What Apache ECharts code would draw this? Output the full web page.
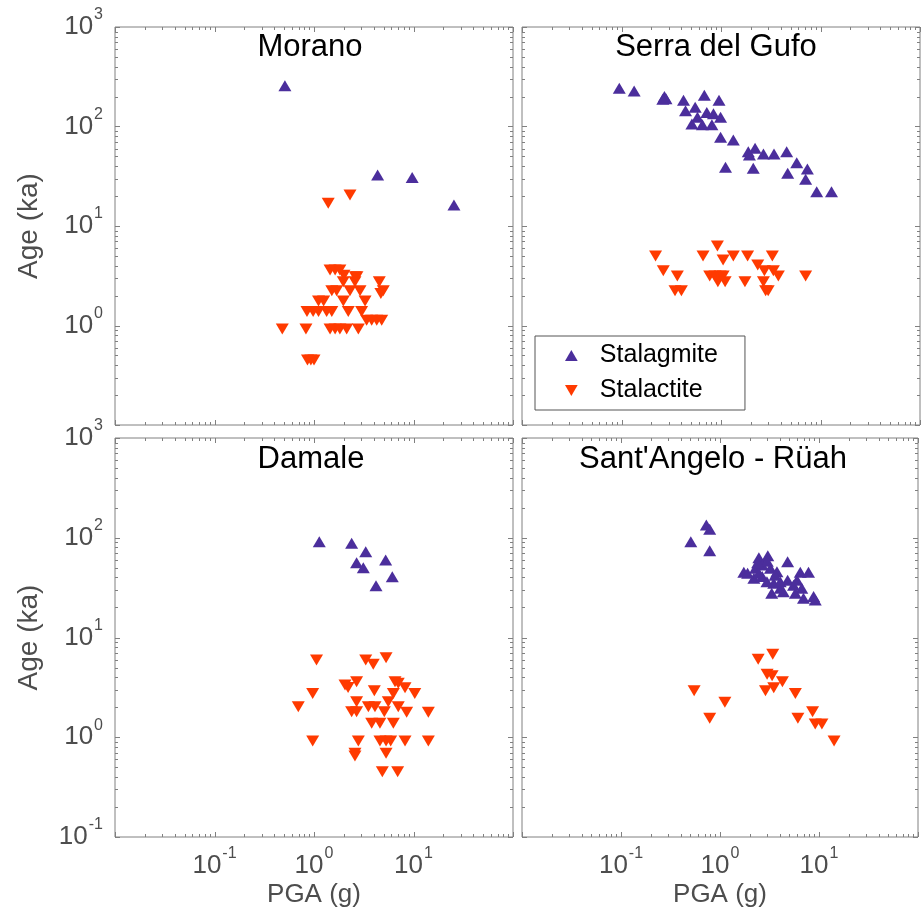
<!DOCTYPE html>
<html>
<head>
<meta charset="utf-8">
<script src="https://cdn.jsdelivr.net/npm/echarts@6/dist/echarts.min.js"></script>
<style>
html,body{margin:0;padding:0;background:#fff;}
#chart{width:921px;height:919px;}
</style>
</head>
<body>
<div id="chart"></div>
<script>
// ---------- data ----------
const panelTitles = ['Morano', 'Serra del Gufo', 'Damale', "Sant'Angelo - R\u00fcah"];
const seriesNames = ['Stalagmite', 'Stalactite'];

const moranoStalagmite = [[0.51,257],[4.36,32.6],[9.7,30.8],[25.5,16.3]];
const moranoStalactite = [
  [1.39,16.9],[2.30,20.5],
  [0.48,0.92],[0.83,0.92],
  [0.86,0.45],[0.93,0.45],[1.0,0.45],
  [1.45,0.92],[1.63,0.92],[1.82,0.92],[2.13,0.92],[2.79,0.92],
  [3.38,1.13],[3.80,1.13],[4.27,1.13],[4.79,1.13],
  [0.85,1.38],[0.98,1.38],[1.11,1.38],[1.34,1.38],[1.51,1.38],[2.21,1.38],[3.01,1.38],
  [1.11,1.76],[1.25,1.76],[1.97,1.76],[3.26,1.76],
  [1.51,2.24],[1.69,2.24],[2.30,2.24],[2.90,2.24],[4.97,2.24],[4.7,2.1],
  [1.97,2.75],[2.58,2.75],[4.53,2.75],
  [2.6,3.09],[2.7,3.09],
  [1.45,3.61],[1.63,3.61],[1.82,3.61],[2.0,3.2]
];

const serraStalagmite = [
  [0.095,242],[0.134,227],[0.27,200],[0.28,190],[0.26,188],[0.42,184],[0.68,206],[0.955,184],
  [0.55,156],[0.44,144],[0.72,138],[0.84,134],[0.99,124],[0.58,124],[0.51,106],[0.65,104],[0.81,104],
  [0.99,77.8],[1.33,73],[1.11,38.9],[1.88,55.8],[2.20,60.3],[1.93,51.7],[2.67,53],[3.41,53],[4.57,55.8],
  [2.11,38],[5.77,43.3],[7.38,37.4],[4.68,33.9],[7.09,29.5],[9.16,22.1],[12.9,22.1]
];
const serraStalactite = [
  [0.22,4.99],[0.263,3.56],[0.364,3.14],[0.345,2.24],[0.40,2.24],[0.66,4.99],[0.92,6.29],[1.05,4.55],
  [1.33,4.99],[1.85,4.99],[3.28,4.99],[2.34,4.06],[2.73,3.56],[3.36,3.56],[3.77,3.14],[0.77,3.14],
  [0.87,3.14],[0.98,3.14],[1.05,3.14],[0.93,2.75],[1.10,2.75],[1.74,2.75],[2.67,2.75],[2.81,2.24],
  [2.98,2.24],[7.09,3.14]
];

const damaleStalagmite = [[1.13,91],[2.39,88],[3.31,72.5],[5.25,59.8],[2.68,56.2],[3.13,50.1],[6.12,40.7],[4.20,33.1]];
const damaleStalactite = [
  [1.06,5.94],[3.31,5.94],[3.94,5.38],[5.30,6.27],[0.97,2.75],[0.695,2.02],[2.05,3.34],[2.2,3.15],
  [2.68,3.61],[4.04,2.93],[6.52,3.61],[7.03,3.47],[8.22,3.14],[10.3,2.75],[6.27,2.75],[2.68,2.27],
  [5.58,2.27],[3.52,2.02],[4.10,2.02],[7.03,2.02],[2.39,1.80],[2.68,1.80],[5.09,1.80],[8.53,1.78],
  [14.1,1.78],[3.80,1.38],[4.60,1.38],[6.27,1.38],[0.97,0.916],[2.79,0.916],[4.60,0.916],[5.30,0.916],
  [5.90,0.916],[8.22,0.916],[14.1,0.916],[2.58,0.69],[2.58,0.65],[5.30,0.69],[4.86,0.452],[6.93,0.452]
];

const santangeloStalagmite = [
  [0.507,91],[0.728,134],[0.787,122],[0.787,74],[1.74,45.1],[2.47,63],[3.04,66],[4.82,57.5],
  [6.47,45.1],[7.83,45.1],[2.28,49.4],[2.67,53.3],[3.23,49.4],[3.76,45.7],[2.20,39.2],[2.67,40.8],
  [2.98,36.3],[3.49,34.9],[4.06,31.1],[4.82,37.6],[5.53,33.5],[6.7,31.1],[3.33,27.7],[4.36,28.8],
  [5.77,27.7],[6.97,24.7],[8.82,25.7],[9.16,23.8],[4.06,36.3],[2.47,44],[6.0,37.6],[1.9,44],
  [3.0,58],[2.4,56],[3.6,42]
];
const santangeloStalactite = [
  [0.548,2.93],[0.787,1.55],[1.12,2.24],[2.43,6.04],[3.41,6.79],[2.99,4.28],[3.36,4.14],[4.27,3.61],
  [2.88,2.93],[3.49,3.14],[5.77,2.75],[6.12,1.55],[8.61,1.80],[9.16,1.36],[10.7,1.36],[14.2,0.916]
];

// axis ranges and tick labels (exponents of 10)
const xRange = [0.01, 100];
const yRange = [0.1, 1000];
const xMajorTicks = [0.01, 0.1, 1, 10, 100];
const yMajorTicks = [0.1, 1, 10, 100, 1000];
const minorMultipliers = [2, 3, 4, 5, 6, 7, 8, 9];
const xTickLabelExps = [-1, 0, 1];
const yTickLabelExpsTop = [0, 1, 2, 3];
const yTickLabelExpsBottom = [-1, 0, 1, 2, 3];

// ---------- styling ----------
const FONT = "'Liberation Sans', Arial, Helvetica, sans-serif";
const LABEL_COLOR = '#4d4d4d';
const FRAME_COLOR = '#808080';
const COLORS = ['#4b2e9c', '#ff3a00'];
const UP = 'path://M5,0 L10,8.66 L0,8.66 Z';
const DOWN = 'path://M0,0 L10,0 L5,8.66 Z';

const panels = [
  {grid:{left:115, top:27, width:398, height:398}, title:panelTitles[0], tx:310, ty:32, data:[moranoStalagmite, moranoStalactite], xLab:false, yLab:yTickLabelExpsTop},
  {grid:{left:522, top:27, width:398, height:398}, title:panelTitles[1], tx:716, ty:32, data:[serraStalagmite, serraStalactite], xLab:false, yLab:null},
  {grid:{left:115, top:438, width:398, height:399}, title:panelTitles[2], tx:311, ty:444, data:[damaleStalagmite, damaleStalactite], xLab:true, yLab:yTickLabelExpsBottom},
  {grid:{left:522, top:438, width:398, height:399}, title:panelTitles[3], tx:713, ty:444, data:[santangeloStalagmite, santangeloStalactite], xLab:true, yLab:null}
];

function expOf(v){ return Math.round(Math.log10(v)); }
function supLabel(exp){ return '{b|10}{s|' + (exp < 0 ? '-' + (-exp) : exp) + '}'; }
const richLabel = {
  b: {fontSize: 26, lineHeight: 26, verticalAlign: 'bottom', color: LABEL_COLOR, fontFamily: FONT},
  s: {fontSize: 16, lineHeight: 16, verticalAlign: 'bottom', padding: [0,0,17,1], color: LABEL_COLOR, fontFamily: FONT}
};

function tickList(majors){
  const out = [];
  majors.forEach((m, i) => {
    out.push([m, 1]);
    if (i < majors.length - 1) minorMultipliers.forEach(k => out.push([m * k, 0]));
  });
  return out;
}
const xTicks = tickList(xMajorTicks);
const yTicks = tickList(yMajorTicks);

function tickSeries(idx, kind){
  const data = kind === 'x' ? xTicks.map(t => [t[0], 1, t[1]]) : yTicks.map(t => [1, t[0], t[1]]);
  return {
    type: 'custom', xAxisIndex: idx, yAxisIndex: idx, silent: true, z: 1,
    encode: {x: 0, y: 1},
    data: data,
    renderItem: function(params, api){
      const major = api.value(2);
      const len = major ? 5 : 3;
      const st = {stroke: FRAME_COLOR, lineWidth: 1};
      if (kind === 'x'){
        const v = api.value(0);
        const b = api.coord([v, yRange[0]]);
        const t = api.coord([v, yRange[1]]);
        const x = Math.round(b[0]) + 0.5;
        return {type:'group', children:[
          {type:'line', shape:{x1:x, y1:b[1], x2:x, y2:b[1]-len}, style:st},
          {type:'line', shape:{x1:x, y1:t[1], x2:x, y2:t[1]+len}, style:st}
        ]};
      } else {
        const v = api.value(1);
        const l = api.coord([xRange[0], v]);
        const r = api.coord([xRange[1], v]);
        const y = Math.round(l[1]) + 0.5;
        return {type:'group', children:[
          {type:'line', shape:{x1:l[0], y1:y, x2:l[0]+len, y2:y}, style:st},
          {type:'line', shape:{x1:r[0], y1:y, x2:r[0]-len, y2:y}, style:st}
        ]};
      }
    }
  };
}

const option = {
  animation: false,
  backgroundColor: '#fff',
  title: panels.map(p => ({
    text: p.title, left: p.tx, top: p.ty, textAlign: 'center', padding: 0,
    textStyle: {fontSize: 31, fontWeight: 'normal', color: '#000', fontFamily: FONT}
  })),
  legend: {
    data: seriesNames, orient: 'vertical', left: 535, top: 336,
    padding: [7, 27, 7, 30], itemWidth: 47, itemHeight: 11, itemGap: 10,
    borderColor: '#555', borderWidth: 1, backgroundColor: '#fff',
    symbolKeepAspect: true, selectedMode: false,
    textStyle: {fontSize: 25, color: '#000', fontFamily: FONT}
  },
  grid: panels.map(p => Object.assign({show: true, borderColor: FRAME_COLOR, borderWidth: 1, backgroundColor: '#fff'}, p.grid)),
  xAxis: panels.map((p, i) => ({
    type: 'log', logBase: 10, gridIndex: i, min: xRange[0], max: xRange[1],
    axisLine: {show: false}, axisTick: {show: false}, splitLine: {show: false},
    axisLabel: {
      show: p.xLab, margin: 16, rich: richLabel,
      formatter: v => (xTickLabelExps.indexOf(expOf(v)) >= 0 ? supLabel(expOf(v)) : '')
    },
    name: p.xLab ? 'PGA (g)' : '', nameLocation: 'middle', nameGap: 45,
    nameTextStyle: {fontSize: 26, color: LABEL_COLOR, fontFamily: FONT}
  })),
  yAxis: panels.map((p, i) => ({
    type: 'log', logBase: 10, gridIndex: i, min: yRange[0], max: yRange[1],
    axisLine: {show: false}, axisTick: {show: false}, splitLine: {show: false},
    axisLabel: {
      show: !!p.yLab, margin: 12, rich: richLabel,
      formatter: v => (p.yLab && p.yLab.indexOf(expOf(v)) >= 0 ? supLabel(expOf(v)) : '')
    },
    name: p.yLab ? 'Age (ka)' : '', nameLocation: 'middle', nameGap: 72, nameRotate: 90,
    nameTextStyle: {fontSize: 28, color: LABEL_COLOR, fontFamily: FONT}
  })),
  series: []
};

panels.forEach((p, i) => {
  option.series.push(tickSeries(i, 'x'));
  option.series.push(tickSeries(i, 'y'));
  option.series.push({
    name: seriesNames[0], type: 'scatter', xAxisIndex: i, yAxisIndex: i, z: 3,
    symbol: UP, symbolSize: [13, 11], itemStyle: {color: COLORS[0], opacity: 1},
    data: p.data[0]
  });
  option.series.push({
    name: seriesNames[1], type: 'scatter', xAxisIndex: i, yAxisIndex: i, z: 3,
    symbol: DOWN, symbolSize: [13, 11], itemStyle: {color: COLORS[1], opacity: 1},
    data: p.data[1]
  });
});

const chart = echarts.init(document.getElementById('chart'), null, {renderer: 'canvas'});
chart.setOption(option);
</script>
</body>
</html>
